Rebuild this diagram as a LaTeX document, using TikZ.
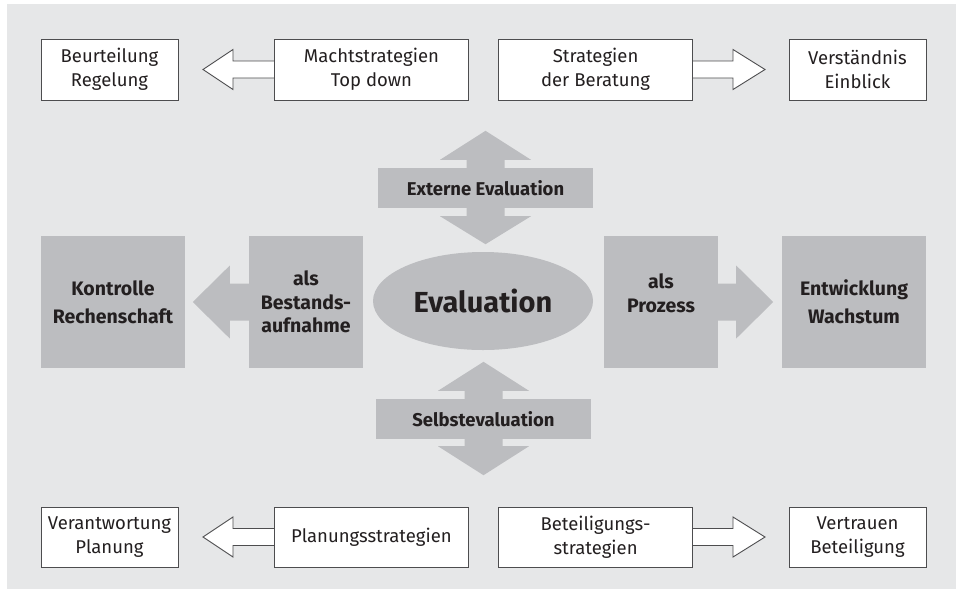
\documentclass[tikz,border=0pt]{standalone}
\usepackage{fontspec}
\setmainfont{Fira Sans}
\usetikzlibrary{shapes.geometric,calc}
\definecolor{bgc}{HTML}{E6E7E8}
\definecolor{grc}{HTML}{BCBDC0}
\definecolor{txc}{HTML}{231F20}
\definecolor{bdc}{HTML}{4D4D4F}
\tikzset{
  wbox/.style={draw=bdc, line width=0.9pt, fill=white, inner sep=0pt, align=center, text=txc,
    minimum height=61pt, font=\fontsize{18.5}{24}\selectfont},
  gbox/.style={fill=grc, inner sep=0pt, align=center, text=txc, minimum height=132pt,
    font=\fontsize{19.5}{28}\selectfont\bfseries},
  gboxtight/.style={gbox, font=\fontsize{19.5}{23.5}\selectfont\bfseries},
  lbox/.style={fill=grc, inner sep=0pt, align=center, text=txc, minimum height=40pt,
    minimum width=215pt, font=\fontsize{18.5}{22}\selectfont\bfseries},
  warrow/.style={draw=bdc, line width=0.9pt, fill=white, line join=miter},
  garrow/.style={fill=grc},
}
\begin{document}
\begin{tikzpicture}[x=1pt,y=-1pt]
\useasboundingbox (0,0) rectangle (957,590);
\fill[bgc] (7,4) rectangle (956,589);

% top row
\coordinate (mw) at (274,69.5);
\coordinate (be) at (693,69.5);
\draw[warrow] (mw) ++(0,-8.5) -- ++(-41,0) -- ++(0,-11.5) -- ++(-30,20) -- ++(30,20) -- ++(0,-11.5) -- ++(41,0);
\draw[warrow] (be) ++(0,-8.5) -- ++(40,0) -- ++(0,-11.5) -- ++(32,20) -- ++(-32,20) -- ++(0,-11.5) -- ++(-40,0);
\node[wbox, minimum width=137pt] (beur) at (109.5,69.5) {Beurteilung\\Regelung};
\node[wbox, minimum width=194pt] (macht) at (mw) [anchor=west] {Machtstrategien\\Top down};
\node[wbox, minimum width=194pt] (bera) at (be) [anchor=east] {Strategien\\der Beratung};
\node[wbox, minimum width=137pt] (vers) at (857.5,69.5) {Verständnis\\Einblick};

% bottom row
\coordinate (pw) at (274,537);
\coordinate (bte) at (693,537);
\draw[warrow] (pw) ++(0,-8.5) -- ++(-41,0) -- ++(0,-11.5) -- ++(-30,20) -- ++(30,20) -- ++(0,-11.5) -- ++(41,0);
\draw[warrow] (bte) ++(0,-8.5) -- ++(40,0) -- ++(0,-11.5) -- ++(32,20) -- ++(-32,20) -- ++(0,-11.5) -- ++(-40,0);
\node[wbox, minimum width=137pt, minimum height=60pt] (vera) at (109.5,537) {Verantwortung\\Planung};
\node[wbox, minimum width=194pt, minimum height=60pt] (plan) at (pw) [anchor=west] {Planungsstrategien};
\node[wbox, minimum width=194pt, minimum height=60pt] (bete) at (bte) [anchor=east] {Beteiligungs-\\strategien};
\node[wbox, minimum width=137pt, minimum height=60pt] (vert) at (857.5,537) {Vertrauen\\Beteiligung};

% middle row
\node[gbox, minimum width=144pt] (kont) at (113,302) {Kontrolle\\Rechenschaft};
\node[gboxtight, minimum width=114pt] (best) at (306,302) {als\\Bestands-\\aufnahme};
\node[gboxtight, minimum width=114pt] (proz) at (661,302) {als\\Prozess\\[-6pt]\mbox{}};
\node[gbox, minimum width=144pt] (entw) at (854,302) {Entwicklung\\Wachstum};
\node[ellipse, fill=grc, minimum width=220pt, minimum height=98pt, inner sep=0pt, text=txc,
  font=\fontsize{29}{32}\selectfont\bfseries] (eval) at (483,301) {Evaluation};
\fill[garrow] (best.west) ++(0,-18.5) -- ++(-19,0) -- ++(0,-18) -- ++(-37,36.5) -- ++(37,36.5) -- ++(0,-18) -- ++(19,0) -- cycle;
\fill[garrow] (proz.east) ++(0,-18.5) -- ++(18,0) -- ++(0,-18) -- ++(37,36.5) -- ++(-37,36.5) -- ++(0,-18) -- ++(-18,0) -- cycle;

% vertical double arrows
\node[lbox] (ext) at (485.5,188) {Externe Evaluation};
\fill[garrow] (ext.north) ++(-19,1) -- ++(0,-9) -- ++(-26.5,0) -- ++(45.5,-29) -- ++(45.5,29) -- ++(-26.5,0) -- ++(0,9) -- cycle;
\fill[garrow] (ext.south) ++(-19,-1) -- ++(0,9) -- ++(-26.5,0) -- ++(45.5,28) -- ++(45.5,-28) -- ++(-26.5,0) -- ++(0,-9) -- cycle;

\node[lbox] (selb) at (483.5,419) {Selbstevaluation};
\fill[garrow] (selb.north) ++(-19,1) -- ++(0,-9) -- ++(-26.5,0) -- ++(45.5,-29) -- ++(45.5,29) -- ++(-26.5,0) -- ++(0,9) -- cycle;
\fill[garrow] (selb.south) ++(-19,-1) -- ++(0,8) -- ++(-26.5,0) -- ++(45.5,29) -- ++(45.5,-29) -- ++(-26.5,0) -- ++(0,-8) -- cycle;
\end{tikzpicture}
\end{document}
